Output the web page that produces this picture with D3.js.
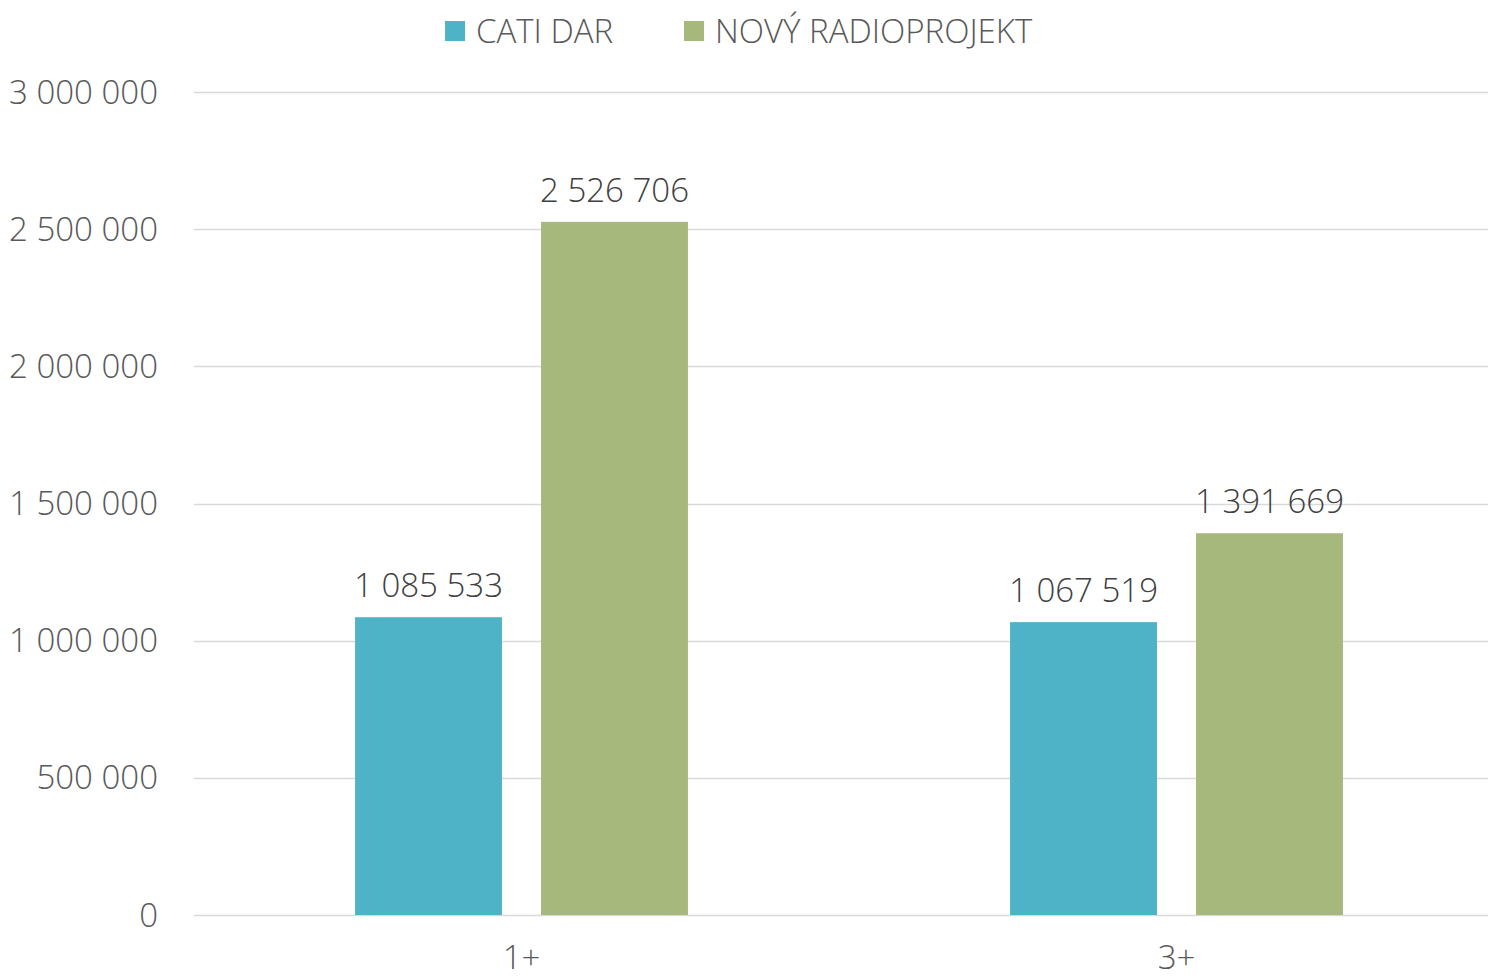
<!DOCTYPE html>
<html>
<head>
<meta charset="utf-8">
<script src="https://cdn.jsdelivr.net/npm/d3@7"></script>
<style>
  body { margin: 0; background: #fff; }
  text { font-family: "Open Sans", "Segoe UI", sans-serif; font-weight: 300; }
</style>
</head>
<body>
<div id="chart"></div>
<script>
// data
const categories = ["1+", "3+"]
const seriesNames = ["CATI DAR", "NOVÝ RADIOPROJEKT"]
const catiDar = [1085533, 1067519]
const novyRadioprojekt = [2526706, 1391669]
const yTicks = [0, 500000, 1000000, 1500000, 2000000, 2500000, 3000000]

const W = 1488, H = 979
const margin = { top: 92, left: 194, bottom: 64 }
const plotBottom = H - margin.bottom   // y of zero line
const fontSize = "33px"

const svg = d3.select("#chart").append("svg")
    .attr("width", W)
    .attr("height", H)

const colors = ["#4FB3C8", "#A7B87D"]
const series = [catiDar, novyRadioprojekt]

const y = d3.scaleLinear()
  .domain([0, 3000000])
  .range([plotBottom, margin.top])

// band scale runs a bit past the right edge, like the cropped original
const x = d3.scaleBand()
  .domain(categories)
  .range([margin.left, 1504])

const inner = d3.scaleBand()
  .domain(d3.range(seriesNames.length))
  .range([0, x.bandwidth()])
  .paddingInner(0.21)
  .paddingOuter(0.866)

const fmt = v => d3.format(",")(v).replace(/,/g, " ")

// gridlines
svg.append("g")
  .selectAll("line")
  .data(yTicks)
  .join("line")
  .attr("x1", margin.left)
  .attr("x2", W)
  .attr("y1", d => Math.round(y(d)) + 0.5)
  .attr("y2", d => Math.round(y(d)) + 0.5)
  .attr("stroke", "#D9D9D9")
  .attr("stroke-width", 1.3)

// y tick labels
svg.append("g")
  .selectAll("text")
  .data(yTicks)
  .join("text")
  .attr("x", 158)
  .attr("y", d => y(d))
  .attr("dy", "0.35em")
  .attr("text-anchor", "end")
  .attr("fill", "#595959")
  .style("font-size", fontSize)
  .text(fmt)

// bars
const groups = svg.append("g")
  .selectAll("g")
  .data(categories)
  .join("g")
  .attr("transform", d => "translate(" + x(d) + ",0)")

groups.selectAll("rect")
  .data((d, i) => series.map((s, j) => ({ j, v: s[i] })))
  .join("rect")
  .attr("x", d => inner(d.j))
  .attr("width", inner.bandwidth())
  .attr("y", d => y(d.v))
  .attr("height", d => plotBottom - y(d.v))
  .attr("fill", d => colors[d.j])

// value labels
groups.selectAll("text")
  .data((d, i) => series.map((s, j) => ({ j, v: s[i] })))
  .join("text")
  .attr("x", d => inner(d.j) + inner.bandwidth() / 2)
  .attr("y", d => y(d.v) - 20)
  .attr("text-anchor", "middle")
  .attr("fill", "#404040")
  .style("font-size", fontSize)
  .text(d => fmt(d.v))

// x labels
svg.append("g")
  .selectAll("text")
  .data(categories)
  .join("text")
  .attr("x", d => x(d) + x.bandwidth() / 2)
  .attr("y", 969)
  .attr("text-anchor", "middle")
  .attr("fill", "#595959")
  .style("font-size", fontSize)
  .text(d => d)

// legend
const legendX = [445, 684]
const legend = svg.append("g")
  .selectAll("g")
  .data(seriesNames)
  .join("g")
  .attr("transform", (d, i) => "translate(" + legendX[i] + ",21)")

legend.append("rect")
  .attr("width", 20)
  .attr("height", 20)
  .attr("fill", (d, i) => colors[i])

legend.append("text")
  .attr("x", 31)
  .attr("y", 10)
  .attr("dy", "0.35em")
  .attr("fill", "#595959")
  .style("font-size", fontSize)
  .text(d => d)
</script>
</body>
</html>
